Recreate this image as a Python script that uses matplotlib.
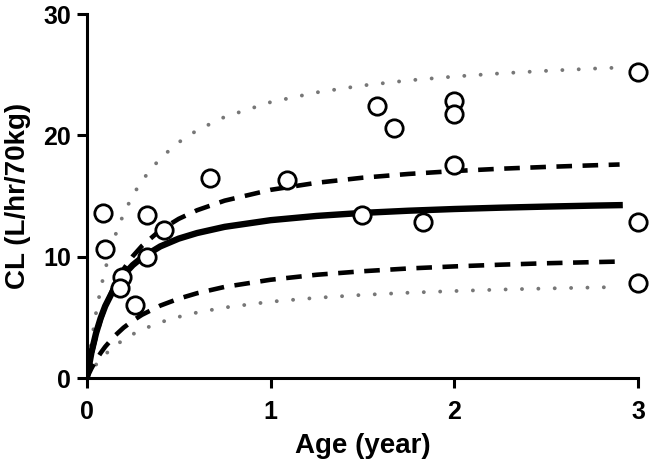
import matplotlib.pyplot as plt

# observed clearance vs age
age_obs = [0.087, 0.098, 0.19, 0.18, 0.26, 0.33, 0.33, 0.42, 0.67, 1.09,
           1.50, 1.58, 1.67, 1.83, 2.0, 2.0, 2.0, 3.0, 3.0, 3.0]
cl_obs = [13.6, 10.6, 8.3, 7.4, 6.0, 13.4, 10.0, 12.2, 16.5, 16.3,
          13.4, 22.4, 20.6, 12.9, 22.8, 21.8, 17.6, 25.2, 12.9, 7.8]

# model curves
age_grid = [0, 0.025, 0.05, 0.075, 0.1, 0.15, 0.2, 0.25, 0.3, 0.4, 0.5,
            0.6, 0.75, 1.0, 1.25, 1.5, 1.75, 2.0, 2.25, 2.5, 2.75, 2.9]
cl_median = [0, 2.11, 3.69, 4.93, 5.93, 7.43, 8.50, 9.31, 9.93, 10.85, 11.49,
             11.95, 12.46, 13.01, 13.36, 13.61, 13.79, 13.93, 14.04, 14.13, 14.21, 14.25]
cl_dash_hi = [0, 1.92, 3.48, 4.79, 5.89, 7.64, 8.98, 10.04, 10.89, 12.19, 13.12,
              13.83, 14.62, 15.51, 16.09, 16.51, 16.82, 17.06, 17.25, 17.40, 17.53, 17.60]
cl_dash_lo = [0, 0.79, 1.47, 2.06, 2.58, 3.45, 4.15, 4.72, 5.21, 5.97, 6.54,
              6.99, 7.51, 8.10, 8.51, 8.80, 9.03, 9.20, 9.34, 9.46, 9.55, 9.60]
cl_dot_hi = [0, 2.98, 5.37, 7.34, 8.98, 11.58, 13.53, 15.05, 16.28, 18.12, 19.43,
             20.42, 21.52, 22.74, 23.54, 24.11, 24.53, 24.85, 25.11, 25.32, 25.50, 25.59]
cl_dot_lo = [0, 0.59, 1.10, 1.55, 1.95, 2.62, 3.16, 3.61, 3.99, 4.59, 5.04,
             5.40, 5.81, 6.29, 6.61, 6.85, 7.03, 7.17, 7.29, 7.38, 7.46, 7.50]

plt.rcParams['font.family'] = ['Liberation Sans', 'DejaVu Sans']
plt.rcParams['font.weight'] = 'bold'

fig = plt.figure(figsize=(6.53, 4.69), dpi=100)
ax = fig.add_axes([0.133, 0.194, 0.844, 0.776])

dot_style = dict(color='#777777', lw=2.8, linestyle=(0, (0.01, 4.2)),
                 dash_capstyle='round')
ax.plot(age_grid, cl_dot_hi, **dot_style)
ax.plot(age_grid, cl_dot_lo, **dot_style)
ax.plot(age_grid, cl_dash_hi, color='black', lw=3.3, linestyle=(0, (3.4, 2.3)))
ax.plot(age_grid, cl_dash_lo, color='black', lw=3.3, linestyle=(0, (3.4, 2.3)))
ax.plot(age_grid, cl_median, color='black', lw=4.6)
ax.plot(age_obs, cl_obs, 'o', ms=12.5, mfc='white', mec='black', mew=2.0,
        clip_on=False, zorder=5)

ax.set_xlim(0, 3)
ax.set_ylim(0, 30)
ax.set_xticks([0, 1, 2, 3])
ax.set_yticks([0, 10, 20, 30])
ax.spines['top'].set_visible(False)
ax.spines['right'].set_visible(False)
for s in ['left', 'bottom']:
    ax.spines[s].set_linewidth(2.2)
ax.tick_params(width=2.2, length=7.5, labelsize=18, direction='out')
ax.tick_params(axis='x', pad=8)
ax.tick_params(axis='y', pad=4)
ax.set_xlabel('Age (year)', fontsize=20, fontweight='bold', labelpad=7)
ax.set_ylabel('CL (L/hr/70kg)', fontsize=20, fontweight='bold', labelpad=9)

fig.savefig('out.png', dpi=100)
